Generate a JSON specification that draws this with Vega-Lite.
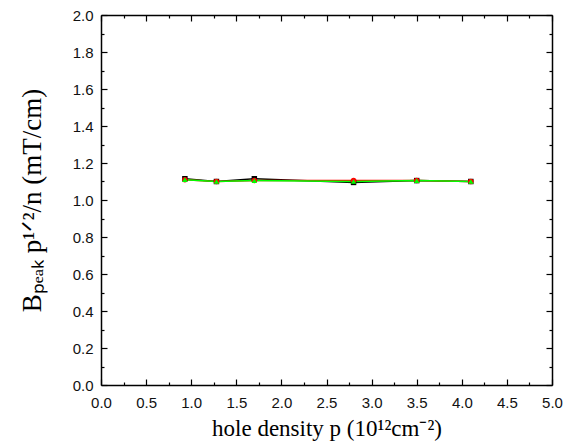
{
  "$schema": "https://vega.github.io/schema/vega-lite/v6.json",
  "width": 451,
  "height": 370,
  "autosize": "none",
  "padding": {"left": 101, "top": 15, "right": 17, "bottom": 61},
  "background": "white",
  "config": {
    "view": {"stroke": null},
    "axis": {
      "domainColor": "black",
      "domainWidth": 1.5,
      "tickColor": "black",
      "tickWidth": 1.2,
      "grid": false,
      "labelFont": "Liberation Sans",
      "labelFontSize": 15,
      "labelColor": "#111",
      "titleFont": "Liberation Serif",
      "titleFontWeight": "normal",
      "titleColor": "black"
    }
  },
  "data": {
    "values": [
      {"series": "A", "p": 0.93, "v": 1.115},
      {"series": "A", "p": 1.28, "v": 1.100},
      {"series": "A", "p": 1.70, "v": 1.115},
      {"series": "A", "p": 2.80, "v": 1.095},
      {"series": "A", "p": 3.50, "v": 1.105},
      {"series": "A", "p": 4.10, "v": 1.100},
      {"series": "B", "p": 0.93, "v": 1.110},
      {"series": "B", "p": 1.28, "v": 1.100},
      {"series": "B", "p": 1.70, "v": 1.105},
      {"series": "B", "p": 2.80, "v": 1.105},
      {"series": "B", "p": 3.50, "v": 1.105},
      {"series": "B", "p": 4.10, "v": 1.100},
      {"series": "C", "p": 0.93, "v": 1.110},
      {"series": "C", "p": 1.28, "v": 1.100},
      {"series": "C", "p": 1.70, "v": 1.105},
      {"series": "C", "p": 2.80, "v": 1.100},
      {"series": "C", "p": 3.50, "v": 1.105},
      {"series": "C", "p": 4.10, "v": 1.100}
    ]
  },
  "resolve": {"axis": {"x": "independent", "y": "independent"}},
  "layer": [
    {
      "mark": {"type": "line", "strokeWidth": 1.5},
      "encoding": {
        "x": {
          "field": "p", "type": "quantitative",
          "scale": {"domain": [0, 5], "nice": false, "zero": false},
          "axis": {
            "orient": "bottom",
            "values": [0,0.25,0.5,0.75,1,1.25,1.5,1.75,2,2.25,2.5,2.75,3,3.25,3.5,3.75,4,4.25,4.5,4.75,5],
            "labelExpr": "datum.value % 0.5 == 0 ? format(datum.value, '.1f') : ''",
            "tickSize": {"condition": {"test": "datum.value % 0.5 == 0", "value": -6}, "value": -3},
            "labelPadding": 16,
            "labelFlush": false,
            "labelOverlap": false,
            "title": "hole density p (10¹²cm⁻²)",
            "titleFontSize": 23,
            "titlePadding": 4
          }
        },
        "y": {
          "field": "v", "type": "quantitative",
          "scale": {"domain": [0, 2], "nice": false, "zero": false},
          "axis": {
            "orient": "left",
            "values": [0,0.1,0.2,0.3,0.4,0.5,0.6,0.7,0.8,0.9,1,1.1,1.2,1.3,1.4,1.5,1.6,1.7,1.8,1.9,2],
            "labelExpr": "round(datum.value*10) % 2 == 0 ? format(datum.value, '.1f') : ''",
            "tickSize": {"condition": {"test": "round(datum.value*10) % 2 == 0", "value": -6}, "value": -3},
            "labelPadding": 14,
            "labelFlush": false,
            "labelOverlap": false,
            "title": "Bₚₑₐₖ p¹ᐟ²/n  (mT/cm)",
            "titleFontSize": 27,
            "titlePadding": 26
          }
        },
        "color": {
          "field": "series", "type": "nominal",
          "scale": {"domain": ["A", "B", "C"], "range": ["#000000", "#ff0000", "#00ff00"]},
          "legend": null
        },
        "order": {"field": "series"}
      }
    },
    {
      "mark": {"type": "point", "filled": true, "size": 30, "opacity": 1},
      "encoding": {
        "x": {
          "field": "p", "type": "quantitative",
          "scale": {"domain": [0, 5], "nice": false, "zero": false},
          "axis": {
            "orient": "top",
            "values": [0,0.25,0.5,0.75,1,1.25,1.5,1.75,2,2.25,2.5,2.75,3,3.25,3.5,3.75,4,4.25,4.5,4.75,5],
            "labels": false,
            "tickSize": {"condition": {"test": "datum.value % 0.5 == 0", "value": -6}, "value": -3},
            "title": null
          }
        },
        "y": {
          "field": "v", "type": "quantitative",
          "scale": {"domain": [0, 2], "nice": false, "zero": false},
          "axis": {
            "orient": "right",
            "values": [0,0.1,0.2,0.3,0.4,0.5,0.6,0.7,0.8,0.9,1,1.1,1.2,1.3,1.4,1.5,1.6,1.7,1.8,1.9,2],
            "labels": false,
            "tickSize": {"condition": {"test": "round(datum.value*10) % 2 == 0", "value": -6}, "value": -3},
            "title": null
          }
        },
        "color": {
          "field": "series", "type": "nominal",
          "scale": {"domain": ["A", "B", "C"], "range": ["#000000", "#ff0000", "#00ff00"]},
          "legend": null
        },
        "shape": {
          "field": "series", "type": "nominal",
          "scale": {"domain": ["A", "B", "C"], "range": ["square", "circle", "triangle-up"]},
          "legend": null
        },
        "order": {"field": "series"}
      }
    }
  ]
}
